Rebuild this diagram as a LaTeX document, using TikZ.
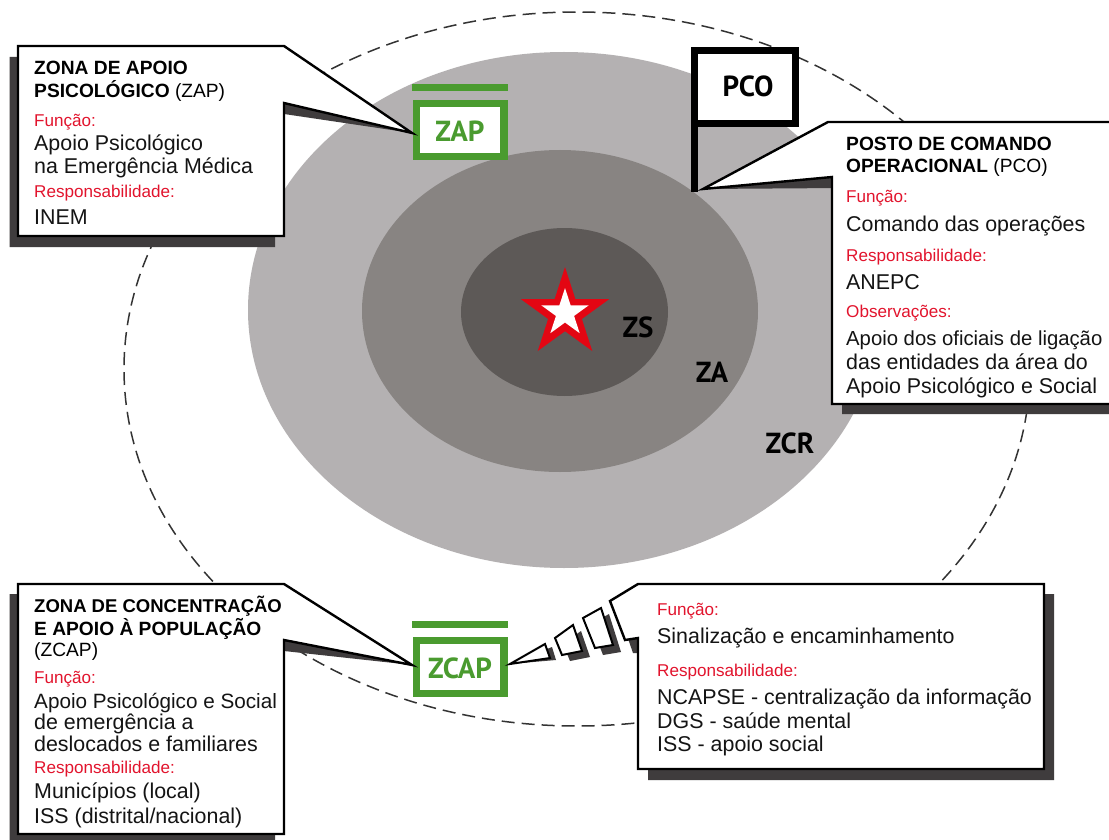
\documentclass[tikz,border=0pt]{standalone}
\usepackage{fontspec}
\setmainfont{Liberation Sans}
\newfontfamily\zonefont{PT Sans}
\usetikzlibrary{shapes.geometric}
\definecolor{zcrgrey}{HTML}{B4B1B2}
\definecolor{zagrey}{HTML}{888482}
\definecolor{zsgrey}{HTML}{5D5957}
\definecolor{shadowgrey}{HTML}{3F3C3D}
\definecolor{signgreen}{HTML}{4A9B2F}
\definecolor{labelred}{HTML}{E2142D}
\definecolor{startred}{HTML}{E30613}
\tikzset{
  head/.style={anchor=base west,inner sep=0pt,font=\fontsize{19.2}{22}\selectfont},
  lab/.style={anchor=base west,inner sep=0pt,text=labelred,font=\fontsize{17.1}{20}\selectfont},
  body/.style={anchor=base west,inner sep=0pt,text=black!92,font=\fontsize{21.4}{25}\selectfont},
  zone/.style={inner sep=0pt,font=\zonefont\bfseries\fontsize{29}{32}\selectfont},
  callout/.style={draw=black,fill=white,line width=2.4pt,line join=miter},
  shadowfill/.style={fill=shadowgrey},
  signframe/.style={draw=signgreen,fill=white,line width=7.5pt},
  signbar/.style={fill=signgreen},
  ring/.style={draw=black!80,line width=1.5pt,dash pattern=on 13pt off 7pt},
  fragment/.style={draw=black,fill=white,line width=2pt,line join=miter},
}
\begin{document}
\begin{tikzpicture}[x=1pt,y=-1pt]
\useasboundingbox (0,0) rectangle (1109,840);
\fill[white] (0,0) rectangle (1109,840);
% zones
\fill[zcrgrey] (564,310) ellipse [x radius=316pt,y radius=258pt];
\fill[zagrey] (560,311) ellipse [x radius=198pt,y radius=161pt];
\fill[zsgrey] (564.5,312) ellipse [x radius=103.5pt,y radius=84pt];
\draw[ring] (577,369) ellipse [x radius=453pt,y radius=357pt];
% star
\node[star,star points=5,star point ratio=2.618,minimum size=92.8pt,inner sep=0pt,fill=startred] (starout) at (565,313.5) {};
\node[star,star points=5,star point ratio=2.618,minimum size=50pt,inner sep=0pt,fill=white] (starin) at (565,313) {};
\node[zone] (zs) at (638,327) {ZS};
\node[zone] (za) at (712,372) {ZA};
\node[zone] (zcr) at (790,443) {ZCR};
% ZAP sign
\fill[signbar] (412,84) rectangle (508,91.5);
\draw[signframe] (416.5,103.5) rectangle (504,156.5);
\node[zone,text=signgreen] (zap) at (460,131) {ZAP};
% ZCAP sign
\fill[signbar] (412,620.5) rectangle (508,628);
\draw[signframe] (416.5,640.5) rectangle (504,693.5);
\node[zone,text=signgreen] (zcap) at (460,668) {ZCAP};
% PCO flag
\draw[black,line width=7.5pt,fill=white] (694.5,192) -- (694.5,50.5) -- (795.5,50.5) -- (795.5,123.5) -- (694.5,123.5);
\node[zone] (pco) at (748,86) {PCO};
% ZAP callout
\fill[shadowfill] (9.5,57) -- (284,57) -- (284,103) -- (412,133) -- (284,114) -- (275,114) -- (275,247) -- (9.5,247) -- cycle;
\draw[callout] (18,46) -- (284,46) -- (412,133) -- (284,103) -- (284,236) -- (18,236) -- cycle;
\node[head,font=\bfseries\fontsize{19.2}{22}\selectfont] (t1) at (34,75) {ZONA DE APOIO};
\node[head] (t2) at (34,98) {\textbf{PSICOLÓGICO} (ZAP)};
\node[lab] (t3) at (34,127) {Função:};
\node[body] (t4) at (34,151) {Apoio Psicológico};
\node[body] (t5) at (34,174) {na Emergência Médica};
\node[lab] (t6) at (34,197) {Responsabilidade:};
\node[body] (t7) at (34,225) {INEM};
% PCO callout
\fill[shadowfill] (703,189) -- (832,177) -- (1115,177) -- (1115,414) -- (842,414) -- (842,188) -- cycle;
\draw[callout] (703,189) -- (828,122) -- (1115,122) -- (1115,404) -- (832,404) -- (832,177) -- cycle;
\node[head,font=\bfseries\fontsize{19.2}{22}\selectfont] (p1) at (846,151) {POSTO DE COMANDO};
\node[head] (p2) at (846,173) {\textbf{OPERACIONAL} (PCO)};
\node[lab] (p3) at (846,203) {Função:};
\node[body] (p4) at (846,231) {Comando das operações};
\node[lab] (p5) at (846,261) {Responsabilidade:};
\node[body] (p6) at (846,289) {ANEPC};
\node[lab] (p7) at (846,317) {Observações:};
\node[body,font=\fontsize{20.3}{25}\selectfont] (p8) at (846,345) {Apoio dos oficiais de ligação};
\node[body] (p9) at (846,369) {das entidades da área do};
\node[body] (p10) at (846,393) {Apoio Psicológico e Social};
% ZCAP callout
\fill[shadowfill] (9.5,594) -- (284,594) -- (284,640) -- (412,665) -- (284,651) -- (275,651) -- (275,845) -- (9.5,845) -- cycle;
\draw[callout] (18,584) -- (284,584) -- (412,665) -- (284,640) -- (284,834) -- (18,834) -- cycle;
\node[head,font=\bfseries\fontsize{18.5}{22}\selectfont] (c1) at (34,612) {ZONA DE CONCENTRAÇÃO};
\node[head,font=\bfseries\fontsize{19.2}{22}\selectfont] (c2) at (34,635) {E APOIO À POPULAÇÃO};
\node[head] (c3) at (34,656) {(ZCAP)};
\node[lab] (c4) at (34,683) {Função:};
\node[body,font=\fontsize{20.7}{25}\selectfont] (c5) at (34,708) {Apoio Psicológico e Social};
\node[body] (c6) at (34,729) {de emergência a};
\node[body] (c7) at (34,751) {deslocados e familiares};
\node[lab] (c8) at (34,773) {Responsabilidade:};
\node[body] (c9) at (34,798) {Municípios (local)};
\node[body] (c10) at (34,823) {ISS (distrital/nacional)};
% right callout: trail of fragments
\fill[shadowfill] (510,664) -- (552,647) -- (556,660) -- cycle;
\fill[shadowfill] (563,644) -- (581,631) -- (590,657) -- (570,661) -- cycle;
\fill[shadowfill] (591,624) -- (609,614) -- (621,652) -- (603,655) -- cycle;
\fill[shadowfill] (618,610) -- (646,594) -- (1054,594) -- (1054,780) -- (648,780) -- (648,653) -- (633,653) -- cycle;
\draw[fragment] (510,664) -- (545,644) -- (550,658) -- cycle;
\draw[fragment] (555,638) -- (573,625) -- (582,651) -- (562,655) -- cycle;
\draw[fragment] (583,618) -- (601,608) -- (613,645) -- (595,648) -- cycle;
\draw[callout] (638,584) -- (1044,584) -- (1044,769) -- (638,769) -- (638,638) -- (625,640) -- (610,601) -- cycle;
\node[lab] (r1) at (657,615) {Função:};
\node[body] (r2) at (657,643) {Sinalização e encaminhamento};
\node[lab] (r3) at (657,676) {Responsabilidade:};
\node[body] (r4) at (657,704) {NCAPSE - centralização da informação};
\node[body] (r5) at (657,728) {DGS - saúde mental};
\node[body] (r6) at (657,751) {ISS - apoio social};
\end{tikzpicture}
\end{document}
